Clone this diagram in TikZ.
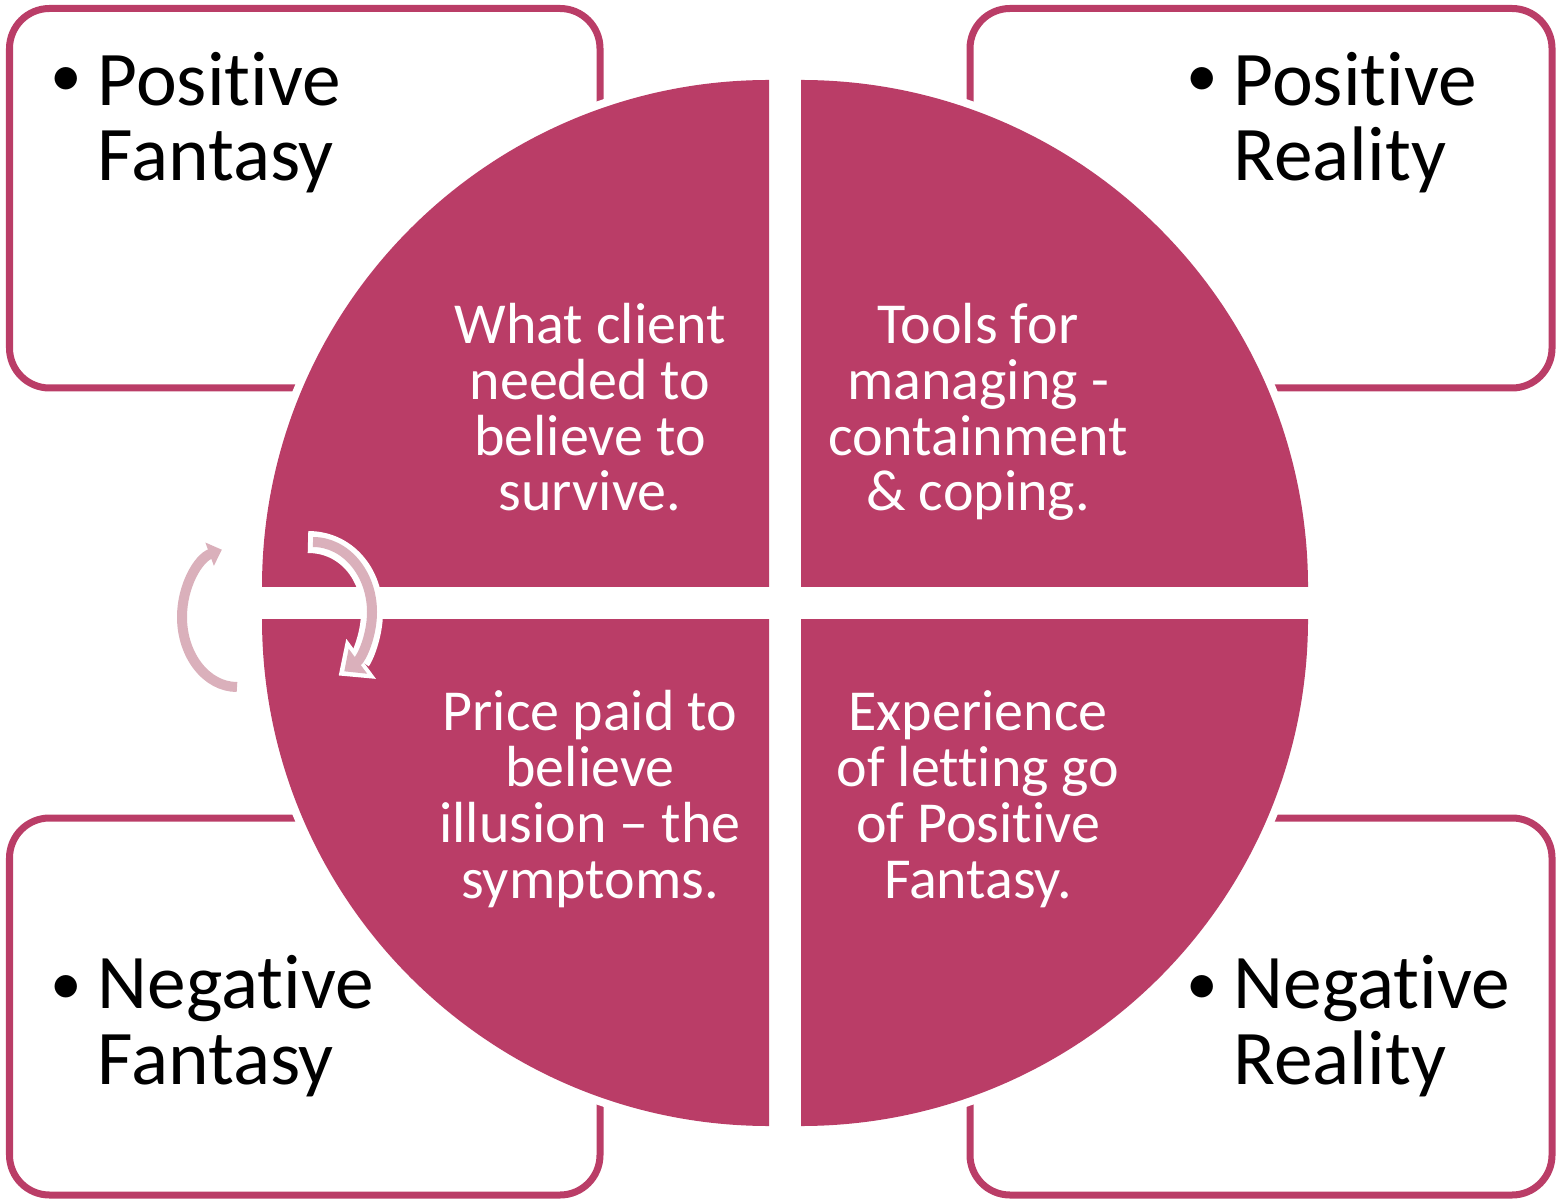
\documentclass[tikz,border=0pt]{standalone}
\usepackage{fontspec}
\setmainfont{Carlito}[Ligatures=NoCommon]
\usetikzlibrary{arrows.meta,positioning}
\definecolor{berry}{RGB}{186,61,103}
\definecolor{blush}{RGB}{218,176,187}

\begin{document}
\begin{tikzpicture}
	\tikzstyle{frame} = [draw=berry, line width=0.07cm, rounded corners=0.4cm]
	\tikzstyle{label} = [inner sep=0pt, align=left, font=\fontsize{22}{21.6}\selectfont]
	\tikzstyle{dot} = [inner sep=0pt, font=\fontsize{18}{18}\selectfont]
	\tikzstyle{quad} = [inner sep=0pt, align=center, text=white, font=\fontsize{16.5}{15.9}\selectfont]
	\tikzstyle{loop} = [draw=blush, line width=0.1cm]
	\useasboundingbox (0,0) rectangle (15.6,-12.02);

	\draw[frame] (0.095,-0.085) rectangle (6.0,-3.88);
	\draw[frame] (9.70,-0.085) rectangle (15.52,-3.88);
	\draw[frame] (0.095,-8.18) rectangle (6.0,-11.95);
	\draw[frame] (9.70,-8.18) rectangle (15.52,-11.95);

	\foreach \cx/\cy/\a in {7.69/-5.87/90, 8.01/-5.87/0, 7.69/-6.19/180, 8.01/-6.19/270}
		\fill[white] (\cx,\cy) -- ++(\a:5.15) arc[start angle=\a, end angle=\a+90, radius=5.15] -- cycle;
	\foreach \cx/\cy/\a in {7.69/-5.87/90, 8.01/-5.87/0, 7.69/-6.19/180, 8.01/-6.19/270}
		\fill[berry] (\cx,\cy) -- ++(\a:5.07) arc[start angle=\a, end angle=\a+90, radius=5.07] -- cycle;

	\node (posfan) [label, anchor=base west] at (0.97,-1.81) {Positive\\Fantasy};
	\node (posreal) [label, anchor=base west] at (12.33,-1.81) {Positive\\Reality};
	\node (negfan) [label, anchor=base west] at (0.97,-10.84) {Negative\\Fantasy};
	\node (negreal) [label, anchor=base west] at (12.33,-10.84) {Negative\\Reality};
	\foreach \n/\x/\y in {posfan/0.667/-0.97, posreal/12.02/-0.97, negfan/0.667/-10.04, negreal/12.02/-10.04}
		\node (\n dot) [dot, anchor=base] at (\x,\y) {\textbullet};

	\node (survive) [quad, anchor=base] at (5.90,-5.11) {What client\\needed to\\believe to\\survive.};
	\node (coping) [quad, anchor=base] at (9.78,-5.11) {Tools for\\managing -\\containment\\\& coping.};
	\node (symptoms) [quad, anchor=base] at (5.90,-8.98) {Price paid to\\believe\\illusion -- the\\symptoms.};
	\node (lettinggo) [quad, anchor=base] at (9.78,-8.98) {Experience\\of letting go\\of Positive\\Fantasy.};

	\draw[loop, -{Triangle[length=0.13cm,width=0.24cm]}] (2.37,-6.87)
		arc[start angle=270, end angle=106, x radius=0.55, y radius=0.70];
	\draw[white, line width=0.22cm, shorten <=-0.05cm, shorten >=-0.07cm, -{Triangle[length=0.28cm,width=0.48cm]}] (3.13,-5.42)
		arc[start angle=90, end angle=-58, x radius=0.59, y radius=0.70];
	\draw[loop, -{Triangle[length=0.17cm,width=0.30cm]}] (3.13,-5.42)
		arc[start angle=90, end angle=-58, x radius=0.59, y radius=0.70];
\end{tikzpicture}
\end{document}
